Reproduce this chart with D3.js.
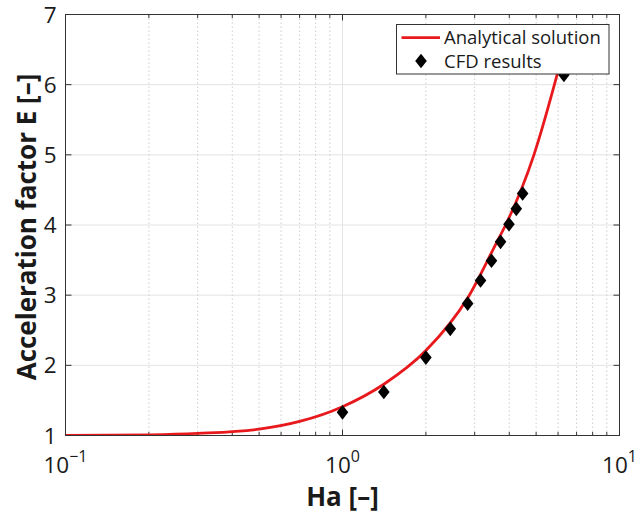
<!DOCTYPE html>
<html>
<head>
<meta charset="utf-8">
<script src="https://cdn.jsdelivr.net/npm/d3@7"></script>
<style>
  html, body { margin: 0; padding: 0; background: #fff; }
  svg { display: block; }
  text { font-family: "Open Sans", "DejaVu Sans", sans-serif; fill: #1a1a1a; }
</style>
</head>
<body>
<svg id="chart" width="641" height="513"></svg>
<script>
// Analytical enhancement-factor curve, E versus Hatta number
const curveHa = [0.1, 0.2, 0.3, 0.5, 0.7, 1.0, 1.41, 2.0, 2.83, 3.6, 3.88, 4.91, 5.96, 6.5];
const curveE  = [1.00, 1.01, 1.03, 1.09, 1.20, 1.41, 1.73, 2.21, 2.96, 3.75, 4.00, 5.00, 6.15, 6.72];

// CFD results
const cfdHa = [1.00, 1.41, 2.00, 2.45, 2.83, 3.15, 3.45, 3.72, 3.99, 4.24, 4.47, 6.30];
const cfdE  = [1.33, 1.62, 2.11, 2.52, 2.88, 3.21, 3.49, 3.76, 4.01, 4.23, 4.45, 6.14];

// Axis ticks
const xMajor = [0.1, 1, 10];
const xExponents = ["\u22121", "0", "1"];
const xMinor = [0.2, 0.3, 0.4, 0.5, 0.6, 0.7, 0.8, 0.9, 2, 3, 4, 5, 6, 7, 8, 9];
const yTicks = [1, 2, 3, 4, 5, 6, 7];

const legendItems = ["Analytical solution", "CFD results"];
const xTitle = "Ha [\u2013]";
const yTitle = "Acceleration factor E [\u2013]";

const svg = d3.select("#chart");
const L = 65.5, R = 619.5, T = 14.5, B = 435.5;

const x = d3.scaleLog().domain([0.1, 10]).range([L, R]);
const y = d3.scaleLinear().domain([1, 7]).range([B, T]);

const red = "#e8191c";
const axisCol = "#333333";

svg.append("rect").attr("x", L).attr("y", T).attr("width", R - L).attr("height", B - T).attr("fill", "#fff");

// grid
const grid = svg.append("g");
grid.selectAll(".gy").data(yTicks.slice(1, -1)).join("line")
  .attr("x1", L).attr("x2", R)
  .attr("y1", d => y(d)).attr("y2", d => y(d))
  .attr("stroke", "#e3e3e3").attr("stroke-width", 1);
grid.selectAll(".gxm").data(xMinor).join("line")
  .attr("x1", d => x(d)).attr("x2", d => x(d))
  .attr("y1", T).attr("y2", B)
  .attr("stroke", "#cfcfcf").attr("stroke-width", 1).attr("stroke-dasharray", "1.5,2.5");
grid.selectAll(".gxM").data(xMajor.slice(1, -1)).join("line")
  .attr("x1", d => x(d)).attr("x2", d => x(d))
  .attr("y1", T).attr("y2", B)
  .attr("stroke", "#e3e3e3").attr("stroke-width", 1);

// inward ticks on all four sides
const ticks = svg.append("g").attr("stroke", axisCol).attr("stroke-width", 1);
const majLen = 6, minLen = 3.5;
[[B, -1], [T, 1]].forEach(([yy, dir]) => {
  ticks.append("g").selectAll("line").data(xMajor).join("line")
    .attr("x1", d => x(d)).attr("x2", d => x(d))
    .attr("y1", yy).attr("y2", yy + dir * majLen);
  ticks.append("g").selectAll("line").data(xMinor).join("line")
    .attr("x1", d => x(d)).attr("x2", d => x(d))
    .attr("y1", yy).attr("y2", yy + dir * minLen);
});
[[L, 1], [R, -1]].forEach(([xx, dir]) => {
  ticks.append("g").selectAll("line").data(yTicks).join("line")
    .attr("x1", xx).attr("x2", xx + dir * majLen)
    .attr("y1", d => y(d)).attr("y2", d => y(d));
});

// analytical curve
svg.append("clipPath").attr("id", "plotClip")
  .append("rect").attr("x", L).attr("y", T).attr("width", R - L).attr("height", B - T);

const curveData = curveHa.map((h, i) => [h, curveE[i]]);
const line = d3.line().x(d => x(d[0])).y(d => y(d[1])).curve(d3.curveMonotoneX);
svg.append("path")
  .attr("clip-path", "url(#plotClip)")
  .attr("d", line(curveData))
  .attr("fill", "none").attr("stroke", red).attr("stroke-width", 2.8)
  .attr("stroke-linejoin", "round");

// diamond marker
const diamond = (cx, cy) => `M${cx},${cy - 7.3}L${cx + 5.8},${cy}L${cx},${cy + 7.3}L${cx - 5.8},${cy}Z`;
const cfdData = cfdHa.map((h, i) => [h, cfdE[i]]);
svg.append("g").selectAll("path").data(cfdData).join("path")
  .attr("d", d => diamond(x(d[0]), y(d[1])))
  .attr("fill", "#000");

// axis box
svg.append("rect").attr("x", L).attr("y", T).attr("width", R - L).attr("height", B - T)
  .attr("fill", "none").attr("stroke", axisCol).attr("stroke-width", 1);

// y tick labels
svg.append("g").selectAll("text").data(yTicks).join("text")
  .attr("x", L - 9).attr("y", d => y(d)).attr("dy", "0.36em")
  .attr("text-anchor", "end").attr("font-size", 22.5)
  .text(d => d);

// x tick labels (powers of ten)
const xl = svg.append("g").selectAll("text").data(xMajor).join("text")
  .attr("x", d => x(d)).attr("y", 473)
  .attr("text-anchor", "middle").attr("font-size", 22.5);
xl.append("tspan").text("10");
xl.append("tspan").attr("font-size", 16).attr("dy", -11).text((d, i) => xExponents[i]);

// axis titles
svg.append("text").attr("x", (L + R) / 2).attr("y", 506)
  .attr("text-anchor", "middle").attr("font-size", 26).attr("font-weight", "bold")
  .text(xTitle);
svg.append("text")
  .attr("transform", `translate(36,${(T + B) / 2 + 2}) rotate(-90)`)
  .attr("text-anchor", "middle").attr("font-size", 26).attr("font-weight", "bold")
  .text(yTitle);

// legend
const lg = svg.append("g");
lg.append("rect").attr("x", 396.5).attr("y", 24.5).attr("width", 212.5).attr("height", 49.5)
  .attr("fill", "#fff").attr("stroke", axisCol).attr("stroke-width", 1);
lg.append("line").attr("x1", 401.5).attr("x2", 440).attr("y1", 37.7).attr("y2", 37.7)
  .attr("stroke", red).attr("stroke-width", 2.8);
lg.append("path").attr("d", diamond(421, 61)).attr("fill", "#000");
lg.selectAll("text").data(legendItems).join("text")
  .attr("x", 444).attr("y", (d, i) => 37.7 + i * 23.3).attr("dy", "0.36em")
  .attr("font-size", 18.5)
  .text(d => d);
</script>
</body>
</html>
